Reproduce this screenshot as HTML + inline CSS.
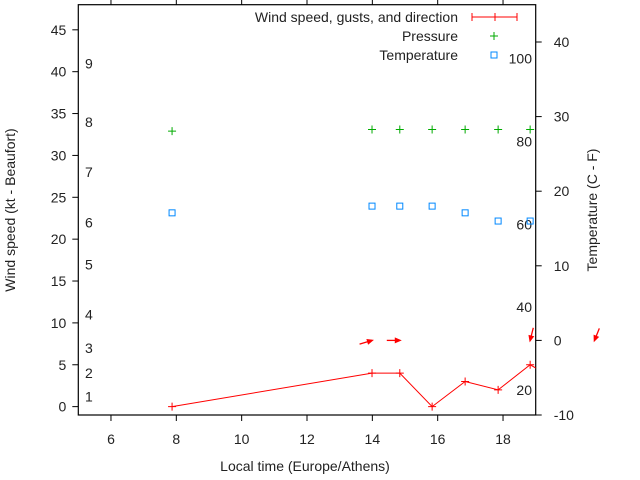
<!DOCTYPE html>
<html><head><meta charset="utf-8"><style>body{margin:0;background:#fff}svg{display:block;font-family:"Liberation Sans",sans-serif}</style></head>
<body>
<svg id="c" width="640" height="480"></svg>
<script>
const times=[7.87,13.99,14.84,15.83,16.84,17.85,18.83];
const wind=[0,4,4,0,3,2,5];
const pressure=[32.9,33.1,33.1,33.1,33.1,33.1,33.1];
const tempC=[17.1,18,18,18,17.1,16,16];
const arrowTimes=[13.99,14.84,18.83,20.8];
const arrowDx=[1,1,-0.25,-0.4];
const arrowDy=[0.3,0,-1,-1];
const xTicks=[6,8,10,12,14,16,18];
const yTicks=[0,5,10,15,20,25,30,35,40,45];
const y2Ticks=[-10,0,10,20,30,40];
const beaufort=[[1,1.2],[2,4],[3,7],[4,11],[5,17],[6,22],[7,28],[8,34],[9,41]];
const fahr=[20,40,60,80,100];
const L=78.3,R=535.7,T=4.7,B=415;
const X=v=>L+(v-5)/(19-5)*(R-L);
const Y=v=>B-(v+1)/(48+1)*(B-T);
const Y2=v=>B-(v+10)/(45+10)*(B-T);
const s=document.getElementById('c');const NS='http://www.w3.org/2000/svg';
function el(t,a,p){const e=document.createElementNS(NS,t);for(const k in a)e.setAttribute(k,a[k]);(p||s).appendChild(e);return e;}
function txt(x,y,str,anchor,name,extra){const e=el('text',Object.assign({x:x,y:y,'font-size':14,fill:'#222','text-anchor':anchor},extra||{}));e.textContent=str;return e;}
const frame=el('rect',{x:L,y:T,width:R-L,height:B-T,fill:'none',stroke:'#000','stroke-width':1.2});

xTicks.forEach(v=>{el('line',{x1:X(v),x2:X(v),y1:B,y2:B+6,stroke:'#000'});el('line',{x1:X(v),x2:X(v),y1:T,y2:T-6,stroke:'#000'});txt(X(v),B+29,String(v),'middle','x-tick-label');});
yTicks.forEach(v=>{el('line',{x1:L-6,x2:L,y1:Y(v),y2:Y(v),stroke:'#000'});txt(L-12,Y(v)+5,String(v),'end','y-tick-label');});
y2Ticks.forEach(v=>{el('line',{x1:R,x2:R+6,y1:Y2(v),y2:Y2(v),stroke:'#000'});txt(R+18,Y2(v)+5,String(v),'start','y2-tick-label');});
beaufort.forEach(b=>txt(85,Y(b[1])+5,String(b[0]),'start','beaufort-label'));
fahr.forEach(f=>txt(532,Y2((f-32)/1.8)+5,String(f),'end','fahrenheit-label'));
const g=el('g',{});
el('path',{d:times.map((t,i)=>(i?'L':'M')+X(t)+','+Y(wind[i])).join('')+'L'+X(19.5)+','+Y(3.5),fill:'none',stroke:'#f00','stroke-width':1,'clip-path':'url(#cp)'},g);
el('clipPath',{id:'cp'});el('rect',{x:L,y:T,width:R-L,height:B-T},s.lastChild);
times.forEach((t,i)=>{const p=el('path',{d:`M${X(t)-4},${Y(wind[i])}h8M${X(t)},${Y(wind[i])-4}v8`,stroke:'#f00'},g);});
times.forEach((t,i)=>{const p=el('path',{d:`M${X(t)-4},${Y(pressure[i])}h8M${X(t)},${Y(pressure[i])-4}v8`,stroke:'#0a0'});});
times.forEach((t,i)=>{const r=el('rect',{x:X(t)-3,y:Y2(tempC[i])-3,width:6,height:6,fill:'none',stroke:'#08f'});});
arrowTimes.forEach((t,i)=>{const x2=X(t),y2=Y2(0),len=13,dx=arrowDx[i],dy=arrowDy[i],n=Math.hypot(dx,dy),ux=dx/n,uy=dy/n;
const sx=x2-ux*len,sy=y2+uy*len;const a=el('g',{});
el('line',{x1:sx,y1:sy,x2:x2,y2:y2,stroke:'#f00','stroke-width':1.3},a);
const px=-uy,py=-ux;el('polygon',{points:`${x2+ux*2},${y2-uy*2} ${x2-ux*5+px*3},${y2+uy*5+py*3} ${x2-ux*5-px*3},${y2+uy*5-py*3}`,fill:'#f00'},a);});
txt(458,22,'Wind speed, gusts, and direction','end','legend-wind');
el('path',{d:'M472,17h45M472,13v8M517,13v8M495,13v8',stroke:'#f00'});
txt(458,41,'Pressure','end','legend-pressure');
el('path',{d:'M490,36h8M494,32v8',stroke:'#0a0'});
txt(458,60,'Temperature','end','legend-temperature');
el('rect',{x:491,y:52,width:6,height:6,fill:'none',stroke:'#08f'});
txt(305,471,'Local time (Europe/Athens)','middle','x-axis-title');
txt(0,0,'Wind speed (kt - Beaufort)','middle','y-axis-title',{transform:'translate(15,210) rotate(-90)'});
txt(0,0,'Temperature (C - F)','middle','y2-axis-title',{transform:'translate(597,210) rotate(-90)'});
</script>
</body></html>
